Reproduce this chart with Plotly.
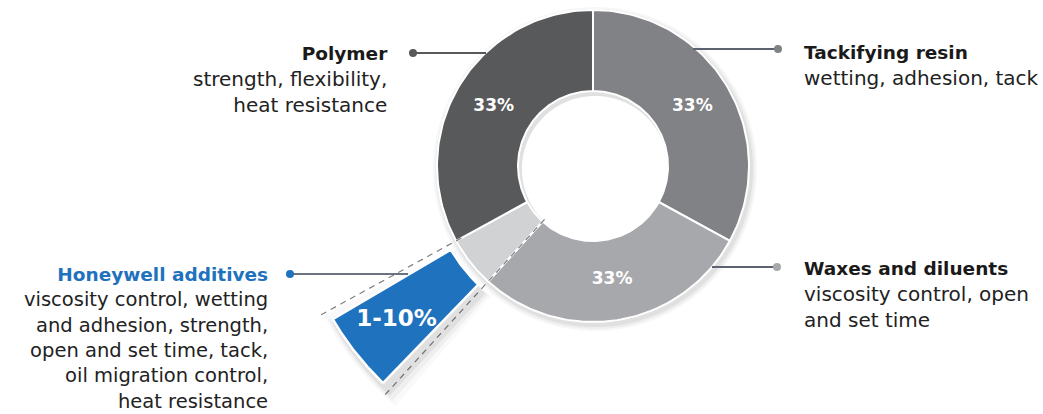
import numpy as np
import plotly.graph_objects as go

# ---- data ----
categories = ["Tackifying resin", "Waxes and diluents", "Honeywell additives", "Polymer"]
values = [33.0, 28.8, 5.3, 33.0]
slice_labels = ["33%", "33%", "", "33%"]
exploded_label = "1-10%"
colors = ["#818285", "#a7a8ab", "#d1d2d4", "#58595b"]
blue = "#1f72bd"
descriptions = {
    "Polymer": "strength, flexibility,<br>heat resistance",
    "Tackifying resin": "wetting, adhesion, tack",
    "Waxes and diluents": "viscosity control, open<br>and set time",
    "Honeywell additives": "viscosity control, wetting<br>and adhesion, strength,<br>open and set time, tack,<br>oil migration control,<br>heat resistance",
}

W, H = 1043, 414
CX, CY = 593, 166          # donut centre in pixels
R_IN, R_OUT = 75, 156
R_EX_IN, R_EX_OUT = 165, 302
FONT = "DejaVu Sans"

def P(x, y):
    return x - CX, CY - y

def sector(a0, a1, r0, r1, n=80):
    t = np.radians(np.linspace(a0, a1, n))
    xs = np.concatenate([r1 * np.cos(t), r0 * np.cos(t[::-1])])
    ys = np.concatenate([r1 * np.sin(t), r0 * np.sin(t[::-1])])
    return np.append(xs, xs[0]), np.append(ys, ys[0])

total = sum(values)
cum = np.concatenate([[0], np.cumsum(values)])
angles = 90 - 360 * cum / total   # clockwise from 12 o'clock

fig = go.Figure()

# soft shadow of donut
for k, a in enumerate([0.05, 0.04, 0.03]):
    xs, ys = sector(0, 360, R_IN - 2, R_OUT + 2 + 2 * k, 200)
    fig.add_trace(go.Scatter(x=xs + 2, y=ys - 3, fill="toself", mode="none",
                             fillcolor=f"rgba(0,0,0,{a})", hoverinfo="skip", showlegend=False))

for i, cat in enumerate(categories):
    xs, ys = sector(angles[i], angles[i + 1], R_IN, R_OUT)
    fig.add_trace(go.Scatter(x=xs, y=ys, fill="toself", mode="lines",
                             line=dict(color="white", width=2), fillcolor=colors[i],
                             hoverinfo="skip", showlegend=False))

# percentage labels
for i, cat in enumerate(categories):
    if not slice_labels[i]:
        continue
    mid = np.radians((angles[i] + angles[i + 1]) / 2)
    r = (R_IN + R_OUT) / 2
    fig.add_trace(go.Scatter(x=[r * np.cos(mid)], y=[r * np.sin(mid)], mode="text",
                             text=[f"<b>{slice_labels[i]}</b>"],
                             textfont=dict(family=FONT, size=17, color="white"),
                             hoverinfo="skip", showlegend=False))

# exploded additives wedge
ia = categories.index("Honeywell additives")
a0, a1 = angles[ia], angles[ia + 1]
inset = 1.8
# dashed guide lines
for a, r0 in [(a0, 72), (a1, 150)]:
    t = np.radians(a)
    fig.add_trace(go.Scatter(x=[r0 * np.cos(t), 312 * np.cos(t)], y=[r0 * np.sin(t), 312 * np.sin(t)],
                             mode="lines", line=dict(color="#7d7f82", width=1.2, dash="6px,5px"),
                             hoverinfo="skip", showlegend=False))
# shadow
for k, a in enumerate([0.06, 0.04, 0.025]):
    xs, ys = sector(a0 - inset + 1 + k, a1 + inset - 1 - k, R_EX_IN - k, R_EX_OUT + 3 + 2 * k)
    fig.add_trace(go.Scatter(x=xs + 5, y=ys - 7, fill="toself", mode="none",
                             fillcolor=f"rgba(0,0,0,{a})", hoverinfo="skip", showlegend=False))
xs, ys = sector(a0 - inset, a1 + inset, R_EX_IN, R_EX_OUT)
fig.add_trace(go.Scatter(x=xs, y=ys, fill="toself", mode="lines",
                         line=dict(color="white", width=2.5), fillcolor=blue,
                         hoverinfo="skip", showlegend=False))
mid = np.radians((a0 + a1) / 2)
fig.add_trace(go.Scatter(x=[250 * np.cos(mid)], y=[250 * np.sin(mid)], mode="text",
                         text=[f"<b>{exploded_label}</b>"],
                         textfont=dict(family=FONT, size=23, color="white"),
                         hoverinfo="skip", showlegend=False))

# leader lines & dots
leaders = [
    ((413, 53), (486, 53), "#58595b", "#58595b", (413, 53)),
    ((693, 49), (778, 49), "#5c6370", "#818285", (778, 49)),
    ((712, 267), (777, 267), "#5c6370", "#a7a8ab", (777, 267)),
    ((290, 274), (408, 274), "#6b7280", blue, (290, 274)),
]
for (p0, p1, lc, dc, dotp) in leaders:
    x0, y0 = P(*p0); x1, y1 = P(*p1)
    fig.add_trace(go.Scatter(x=[x0, x1], y=[y0, y1], mode="lines", line=dict(color=lc, width=1.8),
                             hoverinfo="skip", showlegend=False))
    ddx, ddy = P(*dotp)
    fig.add_trace(go.Scatter(x=[ddx], y=[ddy], mode="markers", marker=dict(color=dc, size=8),
                             hoverinfo="skip", showlegend=False))

# text blocks
text_blocks = [
    ("Polymer", (390, 41), "right", "#1a1a1a", 20),
    ("Tackifying resin", (802, 40), "left", "#1a1a1a", 20),
    ("Waxes and diluents", (802, 256), "left", "#1a1a1a", 20),
    ("Honeywell additives", (270, 262), "right", blue, 19.5),
]
for name, (x, y), al, col, fs in text_blocks:
    ax, ay = P(x, y)
    fig.add_annotation(x=ax, y=ay, xref="x", yref="y", showarrow=False,
                       xanchor=al, yanchor="top", align=al,
                       text=f"<b><span style='color:{col};font-size:18.5px'>{name}</span></b><br>{descriptions[name]}",
                       font=dict(family=FONT, size=fs, color="#222222"))

fig.update_layout(width=W, height=H, margin=dict(l=0, r=0, t=0, b=0),
                  paper_bgcolor="white", plot_bgcolor="white",
                  xaxis=dict(range=[-CX, W - CX], visible=False, fixedrange=True),
                  yaxis=dict(range=[CY - H, CY], visible=False, fixedrange=True))
fig.write_html("out.html")
